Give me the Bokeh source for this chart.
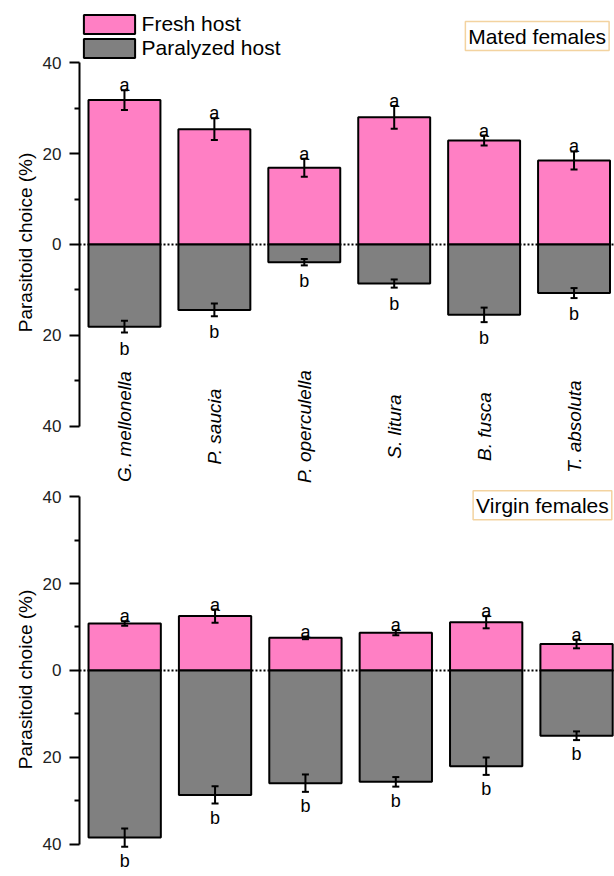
import math
from bokeh.plotting import figure
from bokeh.layouts import column
from bokeh.models import (ColumnDataSource, Whisker, TeeHead, Span, Label, Legend,
                          LegendItem, FixedTicker, CustomJSTickFormatter, Range1d)
from bokeh.core.properties import value
from bokeh.embed import file_html
from bokeh.resources import INLINE

# ---------------- data ----------------
species = ["G. mellonella", "P. saucia", "P. operculella", "S. litura", "B. fusca", "T. absoluta"]

mated_fresh = [31.8, 25.4, 16.9, 28.0, 22.9, 18.5]
mated_fresh_se = [2.2, 2.4, 2.0, 2.5, 1.1, 2.0]
mated_paralyzed = [18.1, 14.4, 3.9, 8.6, 15.5, 10.7]
mated_paralyzed_se = [1.3, 1.4, 0.7, 0.9, 1.6, 1.1]

virgin_fresh = [10.8, 12.5, 7.5, 8.7, 11.1, 6.1]
virgin_fresh_se = [0.5, 1.5, 0.3, 0.6, 1.4, 1.0]
virgin_paralyzed = [38.4, 28.6, 25.9, 25.6, 22.0, 15.0]
virgin_paralyzed_se = [2.1, 2.0, 2.0, 1.1, 2.0, 1.0]

fresh_letter = "a"
paralyzed_letter = "b"

y_ticks = [-40, -20, 0, 20, 40]
y_minor_ticks = [-30, -10, 10, 30]

# ---------------- style ----------------
FONT = "Liberation Sans"
PINK = "#ff7fc4"
GREY = "#808080"
BOX = "#f3d3a0"


def make_panel(fresh, fresh_se, para, para_se, height, y_start, y_end, x_end, border_left,
               panel_text, panel_text_y, b_offset, legend=False, xlabels=False, xlabel_y=0.0):
    xs = list(range(len(species)))
    p = figure(width=614, height=height, output_backend="svg", toolbar_location=None,
               x_range=Range1d(-0.5, x_end), y_range=Range1d(y_start, y_end),
               x_axis_location=None, min_border_left=border_left, min_border_right=0,
               min_border_top=0, min_border_bottom=0, background_fill_color="white",
               border_fill_color="white")
    p.outline_line_color = None
    p.xgrid.visible = False
    p.ygrid.visible = False

    p.add_layout(Span(location=0, dimension="width", line_color="black",
                      line_dash="2 2", line_width=2, level="underlay"))

    src = ColumnDataSource(dict(
        x=xs, fresh=fresh, para=[-v for v in para],
        fup=[v + e for v, e in zip(fresh, fresh_se)],
        flo=[v - e for v, e in zip(fresh, fresh_se)],
        pup=[-v + e for v, e in zip(para, para_se)],
        plo=[-v - e for v, e in zip(para, para_se)],
        la=[fresh_letter] * len(xs), lb=[paralyzed_letter] * len(xs),
    ))
    r_f = p.vbar(x="x", top="fresh", bottom=0, width=0.8, source=src,
                 fill_color=PINK, line_color="black", line_width=2)
    r_p = p.vbar(x="x", top=0, bottom="para", width=0.8, source=src,
                 fill_color=GREY, line_color="black", line_width=2)

    for up, lo in (("fup", "flo"), ("pup", "plo")):
        w = Whisker(source=src, base="x", upper=up, lower=lo, line_color="black",
                    line_width=2, level="annotation",
                    upper_head=TeeHead(size=7, line_width=2, line_color="black"),
                    lower_head=TeeHead(size=7, line_width=2, line_color="black"))
        p.add_layout(w)

    p.text(x="x", y="fup", text="la", source=src, text_align="center",
           text_baseline="alphabetic", y_offset=-5, text_font=value(FONT),
           text_font_size="18px", text_color="black")
    p.text(x="x", y="plo", text="lb", source=src, text_align="center",
           text_baseline="alphabetic", y_offset=b_offset, text_font=value(FONT),
           text_font_size="18px", text_color="black")

    if xlabels:
        lsrc = ColumnDataSource(dict(x=xs, y=[xlabel_y] * len(xs), t=species))
        p.text(x="x", y="y", text="t", source=lsrc, angle=math.pi / 2,
               text_align="center", text_baseline="middle", text_font=value(FONT),
               text_font_style="italic", text_font_size="19px", text_color="black")

    p.add_layout(Label(x=5.39, y=panel_text_y, text=panel_text, text_align="right",
                       text_baseline="middle", text_font=FONT,
                       text_font_size="21px", text_color="black",
                       border_line_color=BOX, border_line_width=1.5,
                       background_fill_color="white", padding=3))

    if legend:
        lg = Legend(items=[LegendItem(label="Fresh host", renderers=[r_f]),
                           LegendItem(label="Paralyzed host", renderers=[r_p])],
                    location=(-2.4, height - 11.6 - 48), padding=0, margin=0, spacing=0,
                    glyph_width=64, glyph_height=24, label_height=24, label_standoff=1,
                    label_text_font=FONT, label_text_font_size="21px",
                    label_text_color="black",
                    border_line_color=None, background_fill_alpha=0)
        p.add_layout(lg)

    ax = p.yaxis[0]
    ax.bounds = (-40, 40)
    ax.ticker = FixedTicker(ticks=y_ticks, minor_ticks=y_minor_ticks)
    ax.formatter = CustomJSTickFormatter(code="return Math.abs(tick).toString()")
    ax.axis_label = "Parasitoid choice (%)"
    ax.axis_label_text_font = FONT
    ax.axis_label_text_font_style = "normal"
    ax.axis_label_text_font_size = "19px"
    ax.axis_label_text_color = "black"
    ax.axis_label_standoff = 4
    ax.major_label_text_font = FONT
    ax.major_label_text_font_size = "17px"
    ax.major_label_text_color = "#222222"
    ax.major_label_standoff = 8
    ax.axis_line_width = 2
    ax.major_tick_line_width = 2
    ax.minor_tick_line_width = 2
    ax.major_tick_in = 0
    ax.major_tick_out = 10
    ax.minor_tick_in = 0
    ax.minor_tick_out = 5
    return p


top = make_panel(mated_fresh, mated_fresh_se, mated_paralyzed, mated_paralyzed_se,
                 height=484, y_start=-52.86, y_end=53.74, x_end=5.45, border_left=76,
                 panel_text="Mated females", panel_text_y=45.9, b_offset=16,
                 legend=True, xlabels=True, xlabel_y=-40.1)
bottom = make_panel(virgin_fresh, virgin_fresh_se, virgin_paralyzed, virgin_paralyzed_se,
                    height=390, y_start=-46.9, y_end=42.76, x_end=5.42, border_left=79,
                    panel_text="Virgin females", panel_text_y=38.0, b_offset=14)

layout = column(top, bottom, spacing=0)
open("out.html", "w").write(file_html(layout, INLINE))
